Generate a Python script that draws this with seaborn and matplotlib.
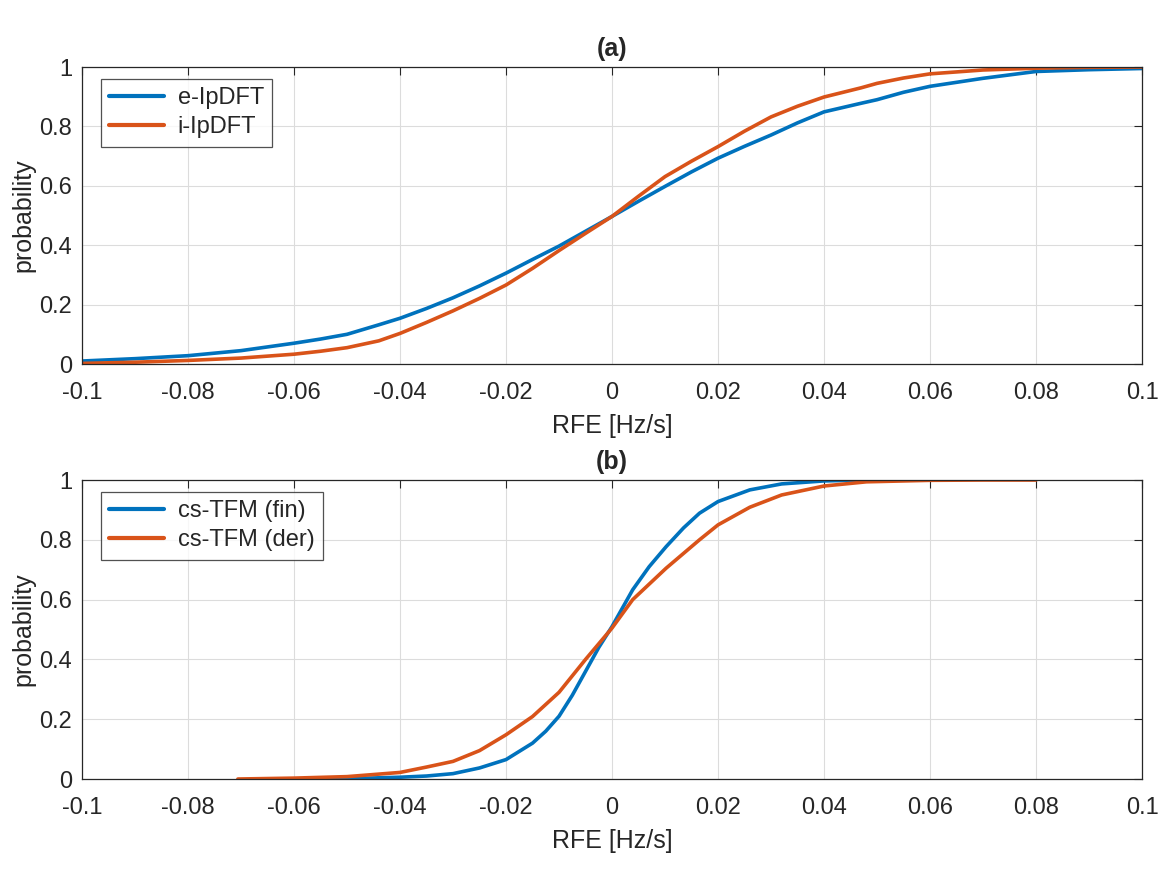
import numpy as np
import pandas as pd
import matplotlib.pyplot as plt
import seaborn as sns

# (a) CDF of RFE
rfe_a = [-0.1, -0.09, -0.08, -0.07, -0.06, -0.055, -0.05, -0.044, -0.04, -0.035, -0.03, -0.025, -0.02,
         -0.015, -0.01, -0.005, 0.0, 0.005, 0.01, 0.015, 0.02, 0.025, 0.03, 0.035, 0.04, 0.047,
         0.05, 0.055, 0.06, 0.07, 0.08, 0.09, 0.1]
e_ipdft = [0.01, 0.018, 0.028, 0.045, 0.07, 0.084, 0.1, 0.132, 0.154, 0.187, 0.223, 0.263, 0.306,
           0.352, 0.397, 0.447, 0.497, 0.548, 0.598, 0.647, 0.693, 0.733, 0.771, 0.812, 0.849, 0.878,
           0.89, 0.915, 0.935, 0.962, 0.985, 0.991, 0.995]
i_ipdft = [0.002, 0.006, 0.012, 0.02, 0.033, 0.043, 0.055, 0.078, 0.103, 0.14, 0.179, 0.221, 0.266,
           0.322, 0.382, 0.44, 0.497, 0.565, 0.631, 0.683, 0.732, 0.784, 0.832, 0.868, 0.899, 0.93,
           0.945, 0.963, 0.977, 0.99, 0.996, 0.999, 1.0]

# (b)
rfe_fin = [-0.0545, -0.05, -0.04, -0.035, -0.03, -0.025, -0.02, -0.015, -0.0125, -0.01, -0.0075,
           -0.005, -0.0025, 0.0, 0.0039, 0.007, 0.0102, 0.0135, 0.0165, 0.02, 0.026, 0.032, 0.04, 0.0472]
cs_fin = [0.0, 0.001, 0.006, 0.01, 0.018, 0.037, 0.065, 0.12, 0.16, 0.21, 0.28,
          0.36, 0.44, 0.51, 0.633, 0.71, 0.777, 0.84, 0.889, 0.928, 0.967, 0.987, 0.997, 1.0]
rfe_der = [-0.0706, -0.06, -0.05, -0.04, -0.035, -0.03, -0.025, -0.02, -0.015, -0.01,
           -0.005, 0.0, 0.0039, 0.0102, 0.0165, 0.02, 0.026, 0.032, 0.04, 0.048, 0.06, 0.07, 0.08]
cs_der = [0.0, 0.003, 0.008, 0.022, 0.04, 0.059, 0.095, 0.148, 0.209, 0.29,
          0.4, 0.505, 0.6, 0.705, 0.8, 0.85, 0.909, 0.95, 0.98, 0.994, 0.999, 1.0, 1.0]

xticks = [-0.1, -0.08, -0.06, -0.04, -0.02, 0, 0.02, 0.04, 0.06, 0.08, 0.1]
xtick_labels = ['-0.1', '-0.08', '-0.06', '-0.04', '-0.02', '0', '0.02', '0.04', '0.06', '0.08', '0.1']
yticks = [0, 0.2, 0.4, 0.6, 0.8, 1]
ytick_labels = ['0', '0.2', '0.4', '0.6', '0.8', '1']

df_a = pd.concat([
    pd.DataFrame({'RFE': rfe_a, 'p': e_ipdft, 'method': 'e-IpDFT'}),
    pd.DataFrame({'RFE': rfe_a, 'p': i_ipdft, 'method': 'i-IpDFT'}),
])
df_b = pd.concat([
    pd.DataFrame({'RFE': rfe_fin, 'p': cs_fin, 'method': 'cs-TFM (fin)'}),
    pd.DataFrame({'RFE': rfe_der, 'p': cs_der, 'method': 'cs-TFM (der)'}),
])

sns.set_style('white')
plt.rcParams['font.family'] = ['Liberation Sans', 'DejaVu Sans']
dark = '#262626'
palette = ['#0072BD', '#D95319']

fig = plt.figure(figsize=(11.67, 8.75), dpi=100)
ax1 = fig.add_axes([0.0703, 0.584, 0.9083, 0.3394])
ax2 = fig.add_axes([0.0703, 0.1097, 0.9083, 0.3417])

for ax, df, title in [(ax1, df_a, '(a)'), (ax2, df_b, '(b)')]:
    sns.lineplot(data=df, x='RFE', y='p', hue='method', palette=palette,
                 linewidth=2.6, sort=False, ax=ax)
    ax.set_xlim(-0.1, 0.1)
    ax.set_ylim(0, 1)
    ax.set_xticks(xticks)
    ax.set_xticklabels(xtick_labels)
    ax.set_yticks(yticks)
    ax.set_yticklabels(ytick_labels)
    ax.grid(True, color='#dcdcdc', linewidth=0.8)
    ax.tick_params(direction='in', length=6, width=0.8, colors=dark,
                   labelsize=17, top=True, right=True)
    ax.tick_params(axis='x', pad=13)
    ax.tick_params(axis='y', pad=7)
    for s in ax.spines.values():
        s.set_color(dark)
        s.set_linewidth(0.9)
    ax.set_xlabel('RFE [Hz/s]', fontsize=18, color=dark, labelpad=7)
    ax.set_ylabel('probability', fontsize=18, color=dark, labelpad=3)
    ax.set_title(title, fontsize=18, fontweight='bold', pad=8)
    leg = ax.legend(loc='upper left', bbox_to_anchor=(0.018, 0.96), fontsize=17,
                    frameon=True, fancybox=False, borderaxespad=0, handlelength=2.3,
                    handletextpad=0.6, borderpad=0.35, labelspacing=0.3)
    leg.get_frame().set_edgecolor(dark)
    leg.get_frame().set_linewidth(0.9)
    for line in leg.get_lines():
        line.set_linewidth(3)

fig.savefig('out.png', dpi=100)
